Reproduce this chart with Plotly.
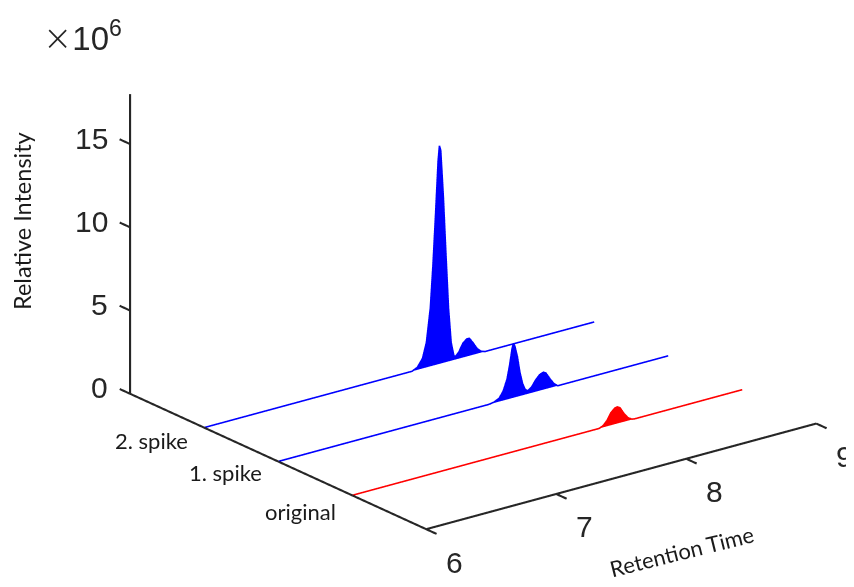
import plotly.graph_objects as go

# ---------------- data ----------------
samples = ["original", "1. spike", "2. spike"]
sample_pos = [1, 2, 3]
sample_colors = ["#ff0000", "#0000ff", "#0000ff"]

rt_original = [6.00, 7.90, 7.93, 7.96, 7.99, 8.02, 8.04, 8.06, 8.09, 8.12, 8.15, 8.17, 9.00]
int_original = [0, 0, 0.10e6, 0.35e6, 0.75e6, 0.97e6, 1.00e6, 0.90e6, 0.50e6, 0.18e6, 0.03e6, 0, 0]

rt_spike1 = [6.00, 7.62, 7.66, 7.70, 7.73, 7.76, 7.78, 7.80, 7.81, 7.82, 7.84, 7.86, 7.88,
             7.90, 7.92, 7.95, 7.98, 8.01, 8.04, 8.06, 8.09, 8.12, 8.15, 9.00]
int_spike1 = [0, 0, 0.05e6, 0.20e6, 0.55e6, 1.20e6, 2.00e6, 3.00e6, 3.25e6, 3.10e6, 2.40e6, 1.40e6, 0.70e6,
              0.30e6, 0.18e6, 0.35e6, 0.70e6, 0.95e6, 1.05e6, 0.95e6, 0.55e6, 0.20e6, 0, 0]

rt_spike2 = [6.00, 7.60, 7.64, 7.68, 7.71, 7.74, 7.76, 7.78, 7.80, 7.81, 7.82, 7.84, 7.86, 7.88,
             7.90, 7.92, 7.93, 7.96, 7.99, 8.02, 8.04, 8.07, 8.10, 8.13, 8.16, 9.00]
int_spike2 = [0, 0, 0.15e6, 0.60e6, 1.50e6, 3.50e6, 6.00e6, 9.00e6, 12.2e6, 13.1e6, 12.8e6, 10.0e6, 6.50e6, 3.20e6,
              1.10e6, 0.30e6, 0.15e6, 0.40e6, 0.85e6, 1.05e6, 1.05e6, 0.70e6, 0.30e6, 0.08e6, 0, 0]

series_rt = [rt_original, rt_spike1, rt_spike2]
series_int = [int_original, int_spike1, int_spike2]

x_range = [6, 9]
y_range = [0, 4]
z_range = [0, 18e6]
x_ticks = [6, 7, 8, 9]
z_ticks = [0, 5e6, 10e6, 15e6]
z_ticktext = ["0", "5", "10", "15"]

# ---------------- styling ----------------
AX_COL = "#262626"
NUM_FONT = dict(family="Liberation Sans", size=30, color=AX_COL)
TXT_FONT = dict(family="Lato", size=22, color="#1a1a1a")
TICK_Y = 0.14          # tick length expressed in y-axis units
PAD_X, PAD_Y, PAD_Z = 0.03, 0.16, 0.2e6

fig = go.Figure()

# filled chromatograms + outline lines
for rt, inten, ypos, col in zip(series_rt, series_int, sample_pos, sample_colors):
    n = len(rt)
    xs, ys, zs = [], [], []
    for r, v in zip(rt, inten):
        xs += [r, r]
        ys += [ypos, ypos]
        zs += [0, v]
    ii, jj, kk = [], [], []
    for a in range(n - 1):
        b = 2 * a
        ii += [b, b + 1]
        jj += [b + 1, b + 3]
        kk += [b + 2, b + 2]
    fig.add_trace(go.Mesh3d(
        x=xs, y=ys, z=zs, i=ii, j=jj, k=kk, color=col, opacity=1,
        flatshading=True,
        lighting=dict(ambient=1, diffuse=0, specular=0, roughness=1, fresnel=0),
        hoverinfo="skip", showscale=False))
    fig.add_trace(go.Scatter3d(
        x=rt, y=[ypos] * n, z=inten, mode="lines",
        line=dict(color=col, width=3.2), hoverinfo="skip", showlegend=False))

# MATLAB-style axis lines (built from the axis ranges / tick values)
x0, x1 = x_range
y0, y1 = y_range
z0, z1 = z_range

def add_seg(p, q):
    fig.add_trace(go.Scatter3d(x=[p[0], q[0]], y=[p[1], q[1]], z=[p[2], q[2]], mode="lines",
                               line=dict(color=AX_COL, width=4.2),
                               hoverinfo="skip", showlegend=False))

add_seg((x0, y0, z0), (x1, y0, z0))       # retention-time axis (front)
add_seg((x0, y0, z0), (x0, y1, z0))       # sample axis (left)
add_seg((x0, y1, z0), (x0, y1, z1))       # intensity axis (back-left)
for xt in x_ticks:
    add_seg((xt, y0, z0), (xt, y0 - TICK_Y, z0))
for zt in z_ticks:
    add_seg((x0, y1, zt), (x0, y1 + TICK_Y, zt))

# tick labels as scene annotations
scene_ann = []
for xt in x_ticks:
    scene_ann.append(dict(x=xt, y=y0, z=z0, text=str(xt), showarrow=False,
                          xanchor="center", yanchor="middle", xshift=28, yshift=-33, font=NUM_FONT))
for zt, zl in zip(z_ticks, z_ticktext):
    scene_ann.append(dict(x=x0, y=y1, z=zt, text=zl, showarrow=False,
                          xanchor="right", yanchor="middle", xshift=-20, yshift=6, font=NUM_FONT))
for yp, yl, dy in zip(sample_pos, samples, [-16, -11, -13]):
    scene_ann.append(dict(x=x0, y=yp, z=z0, text=yl, showarrow=False,
                          xanchor="right", yanchor="middle", xshift=-14, yshift=dy, font=TXT_FONT))

hidden = dict(visible=False, showgrid=False, showbackground=False, zeroline=False,
              showspikes=False, showline=False, showticklabels=False, ticks="", title=dict(text=""))

# view geometry (MATLAB-like orthographic view)
SCALE = 0.852
base_aspect = dict(x=1.95 * 1.0094 * SCALE, y=1.018 * 1.89 * 1.0094 * SCALE,
                   z=0.661 * 1.98 * 0.969 * 1.0094 * SCALE)
xr = [x0 - PAD_X, x1 + PAD_X]
yr = [y0 - PAD_Y, y1 + PAD_Y]
zr = [z0 - PAD_Z, z1 + PAD_Z]
aspect = dict(x=base_aspect["x"] * (xr[1] - xr[0]) / (x1 - x0),
              y=base_aspect["y"] * (yr[1] - yr[0]) / (y1 - y0),
              z=base_aspect["z"] * (zr[1] - zr[0]) / (z1 - z0))

view_dir = (-0.571, -0.742, 0.352)
cen = (-0.1342, 0.0388, -0.1361)
K = 10.0
eye = dict(x=cen[0] + view_dir[0] * K, y=cen[1] + view_dir[1] * K, z=cen[2] + view_dir[2] * K)

fig.update_layout(
    width=854, height=587,
    margin=dict(l=0, r=0, t=0, b=0),
    paper_bgcolor="white",
    showlegend=False,
    hovermode=False,
    scene=dict(
        domain=dict(x=[0, 1], y=[0, 1]),
        xaxis=dict(range=xr, **hidden),
        yaxis=dict(range=yr, **hidden),
        zaxis=dict(range=zr, **hidden),
        aspectmode="manual",
        aspectratio=aspect,
        camera=dict(projection=dict(type="orthographic"),
                    up=dict(x=0, y=0, z=1),
                    center=dict(x=cen[0], y=cen[1], z=cen[2]),
                    eye=eye),
        annotations=scene_ann,
    ),
)

W, H = 854, 587
fig.add_annotation(
    text="<span style='font-size:35px;font-weight:200;font-family:DejaVu Sans'>×</span>10<sup>6</sup>",
    x=33 / W, y=1 - 28 / H, xref="paper", yref="paper",
    xanchor="left", yanchor="middle", showarrow=False,
    font=dict(family="Liberation Sans Narrow, Arial Narrow, Liberation Sans", size=33, color=AX_COL))
fig.add_annotation(text="Relative Intensity", x=14 / W, y=1 - 213 / H, xref="paper", yref="paper",
                   xanchor="center", yanchor="middle", textangle=-90, showarrow=False,
                   font=dict(family="Lato", size=23.5, color="#1a1a1a"))
fig.add_annotation(text="Retention Time", x=673 / W, y=1 - 543 / H, xref="paper", yref="paper",
                   xanchor="center", yanchor="middle", textangle=-14, showarrow=False,
                   font=TXT_FONT)

fig.write_html("out.html")
